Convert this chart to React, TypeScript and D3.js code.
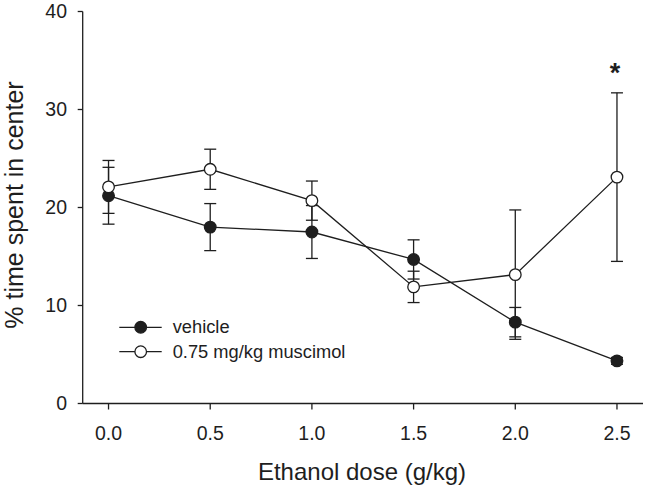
import React from "react";
import * as d3 from "d3";

const doses = [0, 0.5, 1.0, 1.5, 2.0, 2.5];
const vehicleMean = [21.2, 18.0, 17.5, 14.7, 8.3, 4.35];
const vehicleSem = [2.9, 2.4, 2.7, 2.0, 1.5, 0.35];
const muscimolMean = [22.1, 23.9, 20.7, 11.9, 13.15, 23.1];
const muscimolSem = [2.7, 2.05, 2.0, 1.6, 6.6, 8.6];
const significant = [false, false, false, false, false, true];
const xTicks = [0, 0.5, 1.0, 1.5, 2.0, 2.5];
const yTicks = [0, 10, 20, 30, 40];
const seriesNames = ["vehicle", "0.75 mg/kg muscimol"];
const xTitle = "Ethanol dose (g/kg)";
const yTitle = "% time spent in center";

const W = 648;
const H = 490;
const FONT = "'Liberation Sans', Arial, Helvetica, sans-serif";
const INK = "#1e1e1e";

export default function App() {
  const x = d3.scaleLinear().domain([-0.127, 2.628]).range([82.7, 643]);
  const y = d3.scaleLinear().domain([0, 40]).range([403.5, 11.5]);
  const line = d3
    .line<number>()
    .x((_, i) => x(doses[i]))
    .y((d) => y(d));

  const series = [
    { name: seriesNames[0], mean: vehicleMean, sem: vehicleSem, fill: INK },
    { name: seriesNames[1], mean: muscimolMean, sem: muscimolSem, fill: "#fff" },
  ];
  const r = 5.8;
  const cap = 6;

  return (
    <svg
      width={W}
      height={H}
      style={{ position: "absolute", left: 0, top: 0, background: "#fff" }}
      fontFamily={FONT}
    >
      <rect x={0} y={0} width={W} height={H} fill="#fff" />
      {/* axes */}
      <line x1={x.range()[0]} x2={x.range()[0]} y1={y(40)} y2={y(0)} stroke={INK} strokeWidth={1.3} />
      <line x1={x.range()[0]} x2={x.range()[1]} y1={y(0)} y2={y(0)} stroke={INK} strokeWidth={1.3} />
      {yTicks.map((t) => (
        <g key={"y" + t}>
          <line x1={x.range()[0] - 5} x2={x.range()[0]} y1={y(t)} y2={y(t)} stroke={INK} strokeWidth={1.3} />
          <text x={67} y={y(t) + 6.8} textAnchor="end" fontSize={19.5} fill={INK}>
            {t}
          </text>
        </g>
      ))}
      {xTicks.map((t) => (
        <g key={"x" + t}>
          <line x1={x(t)} x2={x(t)} y1={y(0)} y2={y(0) + 6} stroke={INK} strokeWidth={1.3} />
          <text x={x(t)} y={439.5} textAnchor="middle" fontSize={19.5} fill={INK}>
            {d3.format(".1f")(t)}
          </text>
        </g>
      ))}
      <text x={362} y={479.5} textAnchor="middle" fontSize={24} fill={INK}>
        {xTitle}
      </text>
      <text
        transform={`translate(23,${205}) rotate(-90)`}
        textAnchor="middle"
        fontSize={25}
        fill={INK}
      >
        {yTitle}
      </text>

      {/* connecting lines */}
      {series.map((s) => (
        <path key={"l" + s.name} d={line(s.mean) || ""} fill="none" stroke={INK} strokeWidth={1.3} />
      ))}
      {/* error bars */}
      {series.map((s) =>
        s.mean.map((m, i) => (
          <g key={"e" + s.name + i} stroke={INK} strokeWidth={1.3}>
            <line x1={x(doses[i])} x2={x(doses[i])} y1={y(m - s.sem[i])} y2={y(m + s.sem[i])} />
            <line x1={x(doses[i]) - cap} x2={x(doses[i]) + cap} y1={y(m + s.sem[i])} y2={y(m + s.sem[i])} />
            <line x1={x(doses[i]) - cap} x2={x(doses[i]) + cap} y1={y(m - s.sem[i])} y2={y(m - s.sem[i])} />
          </g>
        ))
      )}
      {/* markers */}
      {series.map((s) =>
        s.mean.map((m, i) => (
          <circle
            key={"c" + s.name + i}
            cx={x(doses[i])}
            cy={y(m)}
            r={r}
            fill={s.fill}
            stroke={INK}
            strokeWidth={1.3}
          />
        ))
      )}
      {/* significance */}
      {significant.map((f, i) =>
        f ? (
          <text
            key={"s" + i}
            x={x(doses[i]) - 2}
            y={y(muscimolMean[i] + muscimolSem[i]) - 26 + 15}
            textAnchor="middle"
            fontSize={27}
            fontWeight="bold"
            fill={INK}
          >
            *
          </text>
        ) : null
      )}

      {/* legend */}
      {series.map((s, i) => {
        const ly = 327.3 + i * 24.4;
        return (
          <g key={"lg" + s.name}>
            <line x1={119.3} x2={161.7} y1={ly} y2={ly} stroke={INK} strokeWidth={1.3} />
            <circle cx={140.7} cy={ly} r={r} fill={s.fill} stroke={INK} strokeWidth={1.3} />
            <text x={172.7} y={ly + 6} fontSize={18.3} fill={INK}>
              {s.name}
            </text>
          </g>
        );
      })}
    </svg>
  );
}
